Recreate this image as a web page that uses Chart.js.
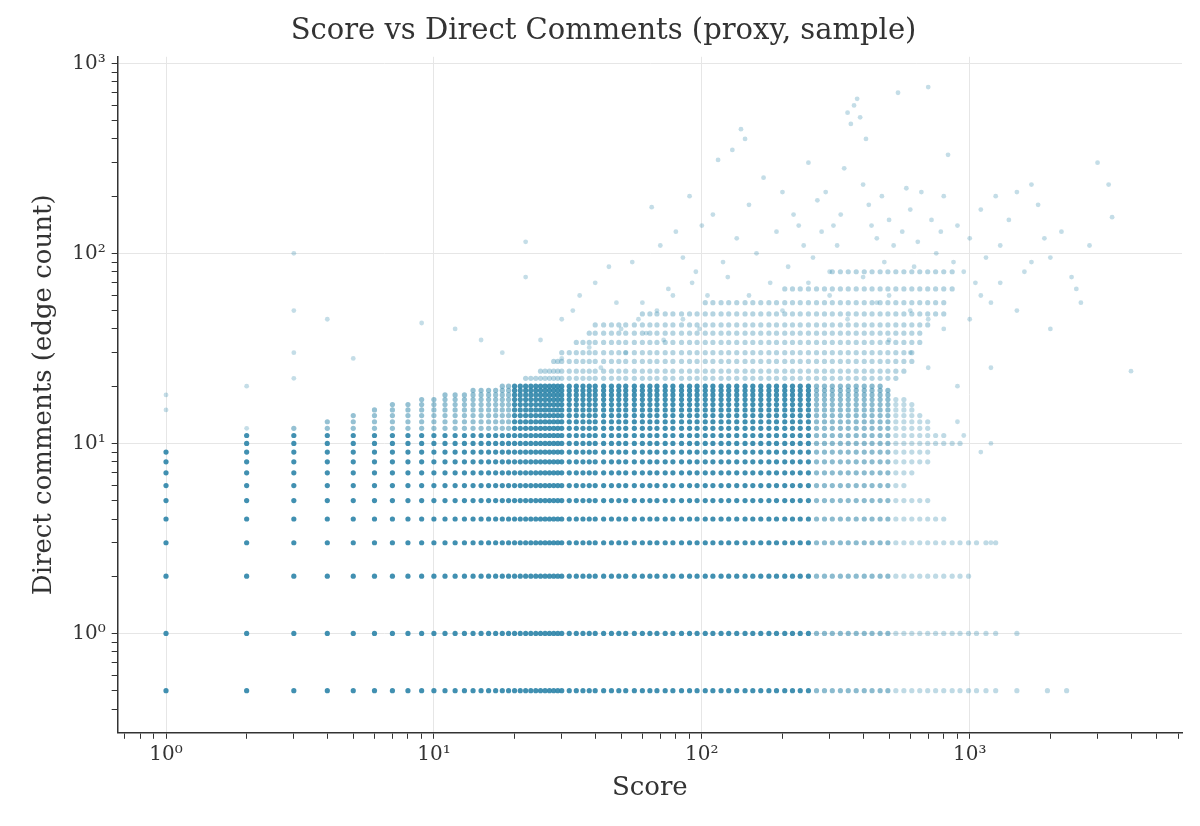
<!DOCTYPE html>
<html><head><meta charset="utf-8">
<script src="https://cdn.jsdelivr.net/npm/chart.js@4/dist/chart.umd.min.js"></script>
<style>html,body{margin:0;background:#fff}#w{width:1200px;height:826px}</style>
</head><body><div id="w"><canvas id="c"></canvas></div>
<script>
// Score levels seen along the horizontal bands
const scoreGrid = [1,2,3,4,5,6,7,8,9,10,11,12,13,14,15,16,17,18,19,20,21,22,23,24,25,26,27,28,29,30,32,34,36,38,40,43,46,49,52,56,60,64,68,73,78,84,90,96,103,110,118,126,135,145,155,166,178,190,204,218,233,250,268,287,307,329,352,377,404,432,463,495,530,568,608,651,697,746,800,860,920,990,1060,1150,1250,1500,1950,2300];
// Comment levels (0 comments plotted at 0.5 proxy) and the score range each band spans
const commentLevels = [0.5,1,2,3,4,5,6,7,8,9,10,11,12,13,14,15,16,17,18,19,20,22,24,27,30,34,38,42,48,55,65,80];
const bandMinScore  = [1,1,1,1,1,1,1,1,1,1,2,2,3,4,5,6,7,9,11,14,18,22,25,28,30,34,38,40,60,100,200,300];
const bandMaxScore  = [2300,1500,1000,1250,800,700,600,650,700,700,920,800,700,700,651,608,608,568,495,495,463,530,568,608,608,651,651,697,800,800,860,860];
// Scattered upper cloud
const cloudScore = [22,22,30,35,40,45,50,55,60,65,70,75,80,85,90,95,100,105,110,115,120,125,130,135,140,145,150,160,170,180,190,200,210,220,230,240,250,260,270,280,290,300,310,320,330,340,350,360,370,380,390,400,410,420,430,450,470,480,500,520,540,560,580,600,620,640,660,700,720,750,780,800,830,870,900,950,1000,1050,1100,1150,1200,1250,1300,1400,1500,1600,1700,1800,1900,2000,2200,2400,2600,2800,3000,3300,3400,4000,1200,1100,1200,900,950,25,30,33,38,42,48,52,58,62,68,72,78,85,92,98,150,200,250,300,350,400,450,500,600,700,800,500,600,700,3,3,3,3,4,5,1,1,2,2,9,12,15,18,1000,1100,1300,1500,1700,2000,2500,900,1200];
const cloudComments = [115,75,45,60,70,85,40,90,55,175,110,65,130,95,200,80,140,60,160,310,90,75,350,120,450,400,180,100,250,70,130,210,85,160,140,110,300,95,190,130,210,80,140,110,160,280,550,480,600,650,520,230,400,180,140,120,200,90,150,110,700,130,220,170,85,115,210,750,150,100,130,200,330,90,140,80,120,70,170,95,55,200,110,150,210,80,230,180,120,95,130,75,55,110,300,230,155,24,3,9,10,13,11,35,28,50,32,25,55,30,45,38,50,35,60,45,70,40,60,50,70,60,45,75,55,60,50,45,40,35,30,25,100,50,30,22,45,28,18,15,20,12,43,40,35,30,45,60,70,50,90,40,65,20,25];

const bandPts = [], cloudPts = [];
commentLevels.forEach((c,i)=>{
  scoreGrid.forEach(s=>{ if(s>=bandMinScore[i] && s<=bandMaxScore[i]) bandPts.push({x:s,y:c}); });
});
cloudScore.forEach((s,i)=>cloudPts.push({x:s,y:cloudComments[i]}));

function bandColor(ctx){
  const p=ctx.raw; if(!p) return 'rgba(44,132,168,0.5)';
  let a;
  if(p.y<=20){ a = p.x<=250?0.9:(p.x<=500?0.55:0.3); if(p.y>=12&&p.x<20) a=Math.min(a,0.5); }
  else { a = 0.35; }
  return 'rgba(44,132,168,'+a+')';
}

const F='"DejaVu Serif", serif';
const sup=['⁰','¹','²','³'];
function logTicks(lo,hi){const t=[];for(let e=lo;e<=hi;e++)for(let m=1;m<10;m++)t.push({value:m*Math.pow(10,e)});return t;}
const isMajor=v=>Math.abs(Math.log10(v)-Math.round(Math.log10(v)))<1e-9;
const lab=v=>isMajor(v)?'10'+sup[Math.round(Math.log10(v))]:'';

new Chart(document.getElementById('c'),{
  type:'scatter',
  data:{datasets:[
    {data:bandPts,backgroundColor:bandColor,borderWidth:0,pointRadius:2.6},
    {data:cloudPts,backgroundColor:'rgba(44,132,168,0.28)',borderWidth:0,pointRadius:2.4}
  ]},
  options:{responsive:true,maintainAspectRatio:false,animation:false,
    layout:{padding:{top:6,right:18,left:25,bottom:18}},
    plugins:{legend:{display:false},tooltip:{enabled:false},
      title:{display:true,text:'Score vs Direct Comments (proxy, sample)',font:{family:F,size:29,weight:'normal'},color:'#333',padding:{top:8,bottom:8}}},
    scales:{
      x:{type:'logarithmic',min:0.66,max:6200,
        afterBuildTicks:a=>{a.ticks=logTicks(-1,3).filter(t=>t.value>=0.66&&t.value<=6200);},
        ticks:{autoSkip:false,maxRotation:0,callback:lab,font:{family:F,size:20},color:'#333',padding:4},
        grid:{color:c=>c.tick&&isMajor(c.tick.value)?'#e6e6e6':'rgba(0,0,0,0)',tickColor:'#333',tickLength:6,drawOnChartArea:true},
        border:{display:true,color:'#333',width:1.5},
        title:{display:true,text:'Score',font:{family:F,size:26},color:'#333',padding:{top:2}}},
      y:{type:'logarithmic',min:0.345,max:1082,
        afterBuildTicks:a=>{a.ticks=logTicks(-1,3).filter(t=>t.value>=0.345&&t.value<=1082);},
        ticks:{autoSkip:false,callback:lab,font:{family:F,size:20},color:'#333',padding:6},
        grid:{color:c=>c.tick&&isMajor(c.tick.value)?'#e6e6e6':'rgba(0,0,0,0)',tickColor:'#333',tickLength:6},
        border:{display:true,color:'#333',width:1.5},
        title:{display:true,text:'Direct comments (edge count)',font:{family:F,size:26},color:'#333',padding:{bottom:6}}}
    }}
});
</script></body></html>
